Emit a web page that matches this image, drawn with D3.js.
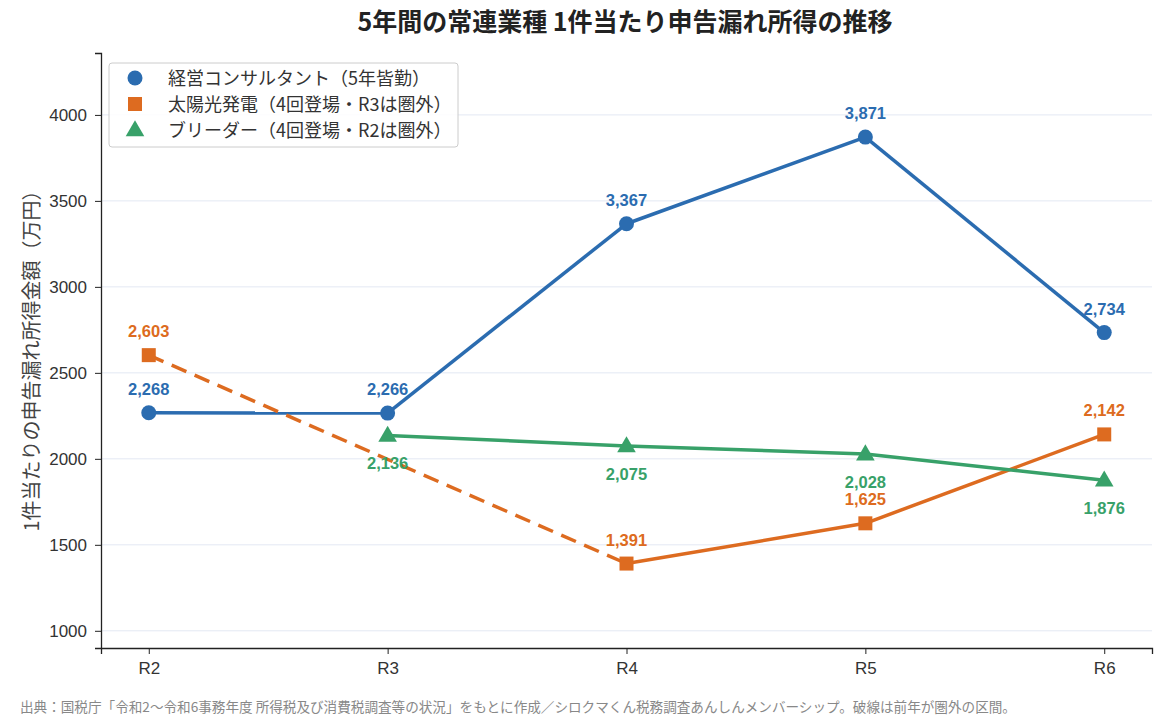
<html>
<head>
<meta charset="utf-8">
<script src="https://cdn.jsdelivr.net/npm/d3@7"></script>
<style>
    body { margin: 0; background: #fff; }
    svg { display: block; font-family: "Noto Sans CJK JP", "Noto Sans", sans-serif; }
    .tick text { font-family: "Liberation Sans", Arial, sans-serif; font-size: 17px; fill: #333; }
    .grid line { stroke: #e3e8f3; stroke-width: 1; }
    .vlabel { font-family: "Liberation Sans", Arial, sans-serif; font-size: 16.5px; font-weight: bold; text-anchor: middle; }
</style>
</head>
<body>
<svg id="chart" width="1164" height="727"></svg>
<script>

    var years = ['R2', 'R3', 'R4', 'R5', 'R6'];
    var consultant = [2268, 2266, 3367, 3871, 2734];
    var solar = [2603, null, 1391, 1625, 2142];
    var breeder = [null, 2136, 2075, 2028, 1876];
    var yTicks = [1000, 1500, 2000, 2500, 3000, 3500, 4000];

    var seriesList = [
        { name: '経営コンサルタント（5年皆勤）', values: consultant, color: '#2b6cb0', shape: 'circle', labelPos: 'above' },
        { name: '太陽光発電（4回登場・R3は圏外）', values: solar, color: '#dd6b20', shape: 'square', labelPos: 'above' },
        { name: 'ブリーダー（4回登場・R2は圏外）', values: breeder, color: '#38a169', shape: 'triangle', labelPos: 'below' }
    ];

    var svg = d3.select('#chart');
    var margin = { left: 101, right: 12, top: 53, bottom: 79 };
    var W = 1164, H = 727;

    var x = d3.scaleLinear()
        .domain([-0.2, 4.2])
        .range([margin.left, W - margin.right]);

    var y = d3.scaleLinear()
        .domain([900, 4360])
        .range([H - margin.bottom, margin.top]);

    // grid
    svg.append('g').attr('class', 'grid')
        .selectAll('line').data(yTicks).enter().append('line')
        .attr('x1', margin.left).attr('x2', W - margin.right)
        .attr('y1', function(d) { return y(d); })
        .attr('y2', function(d) { return y(d); });

    // axes
    var yAxis = svg.append('g')
        .attr('transform', 'translate(' + margin.left + ',0)')
        .call(d3.axisLeft(y).tickValues(yTicks).tickFormat(d3.format('d')).tickSize(6).tickPadding(8));
    var xAxis = svg.append('g')
        .attr('transform', 'translate(0,' + (H - margin.bottom) + ')')
        .call(d3.axisBottom(x).tickValues(d3.range(years.length)).tickFormat(function(i) { return years[i]; }).tickSize(6).tickPadding(8));
    [yAxis, xAxis].forEach(function(a) {
        a.select('.domain').attr('stroke', '#222').attr('stroke-width', 1.3);
        a.selectAll('.tick line').attr('stroke', '#222');
    });

    // y label
    svg.append('text')
        .attr('transform', 'translate(39,' + 356 + ') rotate(-90)')
        .attr('text-anchor', 'middle')
        .style('font-size', '20px')
        .style('fill', '#444')
        .text('1件当たりの申告漏れ所得金額（万円）');

    // title
    svg.append('text')
        .attr('x', 625).attr('y', 31)
        .attr('text-anchor', 'middle')
        .style('font-size', '25px')
        .style('font-weight', 'bold')
        .style('fill', '#222')
        .text('5年間の常連業種 1件当たり申告漏れ所得の推移');

    // footer
    svg.append('text')
        .attr('x', 20).attr('y', 712)
        .style('font-size', '13.6px')
        .style('fill', '#888')
        .text('出典：国税庁「令和2〜令和6事務年度 所得税及び消費税調査等の状況」をもとに作成／シロクマくん税務調査あんしんメンバーシップ。破線は前年が圏外の区間。');

    var line = d3.line()
        .x(function(d) { return x(d.i); })
        .y(function(d) { return y(d.v); });

    function drawMarker(g, shape, color, cx, cy) {
        if (shape === 'circle') {
            g.append('circle').attr('cx', cx).attr('cy', cy).attr('r', 7.5).attr('fill', color);
        } else if (shape === 'square') {
            g.append('rect').attr('x', cx - 7).attr('y', cy - 7).attr('width', 14).attr('height', 14).attr('fill', color);
        } else {
            g.append('path').attr('d', d3.symbol().type(d3.symbolTriangle).size(150)())
                .attr('transform', 'translate(' + cx + ',' + (cy + 1) + ')').attr('fill', color);
        }
    }

    seriesList.forEach(function(s) {
        var pts = [];
        s.values.forEach(function(v, i) { if (v !== null) pts.push({ i: i, v: v }); });
        var g = svg.append('g');
        // segments: solid when consecutive, dashed when a gap precedes
        for (var k = 1; k < pts.length; k++) {
            var gap = pts[k].i - pts[k - 1].i > 1;
            g.append('path')
                .attr('d', line([pts[k - 1], pts[k]]))
                .attr('fill', 'none')
                .attr('stroke', s.color)
                .attr('stroke-width', 3.5)
                .attr('stroke-dasharray', gap ? '16,9' : null);
        }
        pts.forEach(function(p) {
            drawMarker(g, s.shape, s.color, x(p.i), y(p.v));
            g.append('text')
                .attr('class', 'vlabel')
                .attr('x', x(p.i))
                .attr('y', y(p.v) + (s.labelPos === 'above' ? -18 : 34))
                .attr('fill', s.color)
                .text(d3.format(',')(p.v));
        });
    });

    // legend
    var legend = svg.append('g');
    legend.append('rect')
        .attr('x', 109).attr('y', 63).attr('width', 349).attr('height', 84)
        .attr('rx', 3)
        .attr('fill', 'rgba(255,255,255,0.85)')
        .attr('stroke', '#ccc');
    seriesList.forEach(function(s, i) {
        var ly = 78 + i * 26;
        var lg = legend.append('g');
        drawMarker(lg, s.shape, s.color, 135, ly);
        lg.append('text')
            .attr('x', 168).attr('y', ly + 6.5)
            .style('font-size', '18px')
            .style('fill', '#333')
            .text(s.name);
    });

</script>
</body>
</html>
